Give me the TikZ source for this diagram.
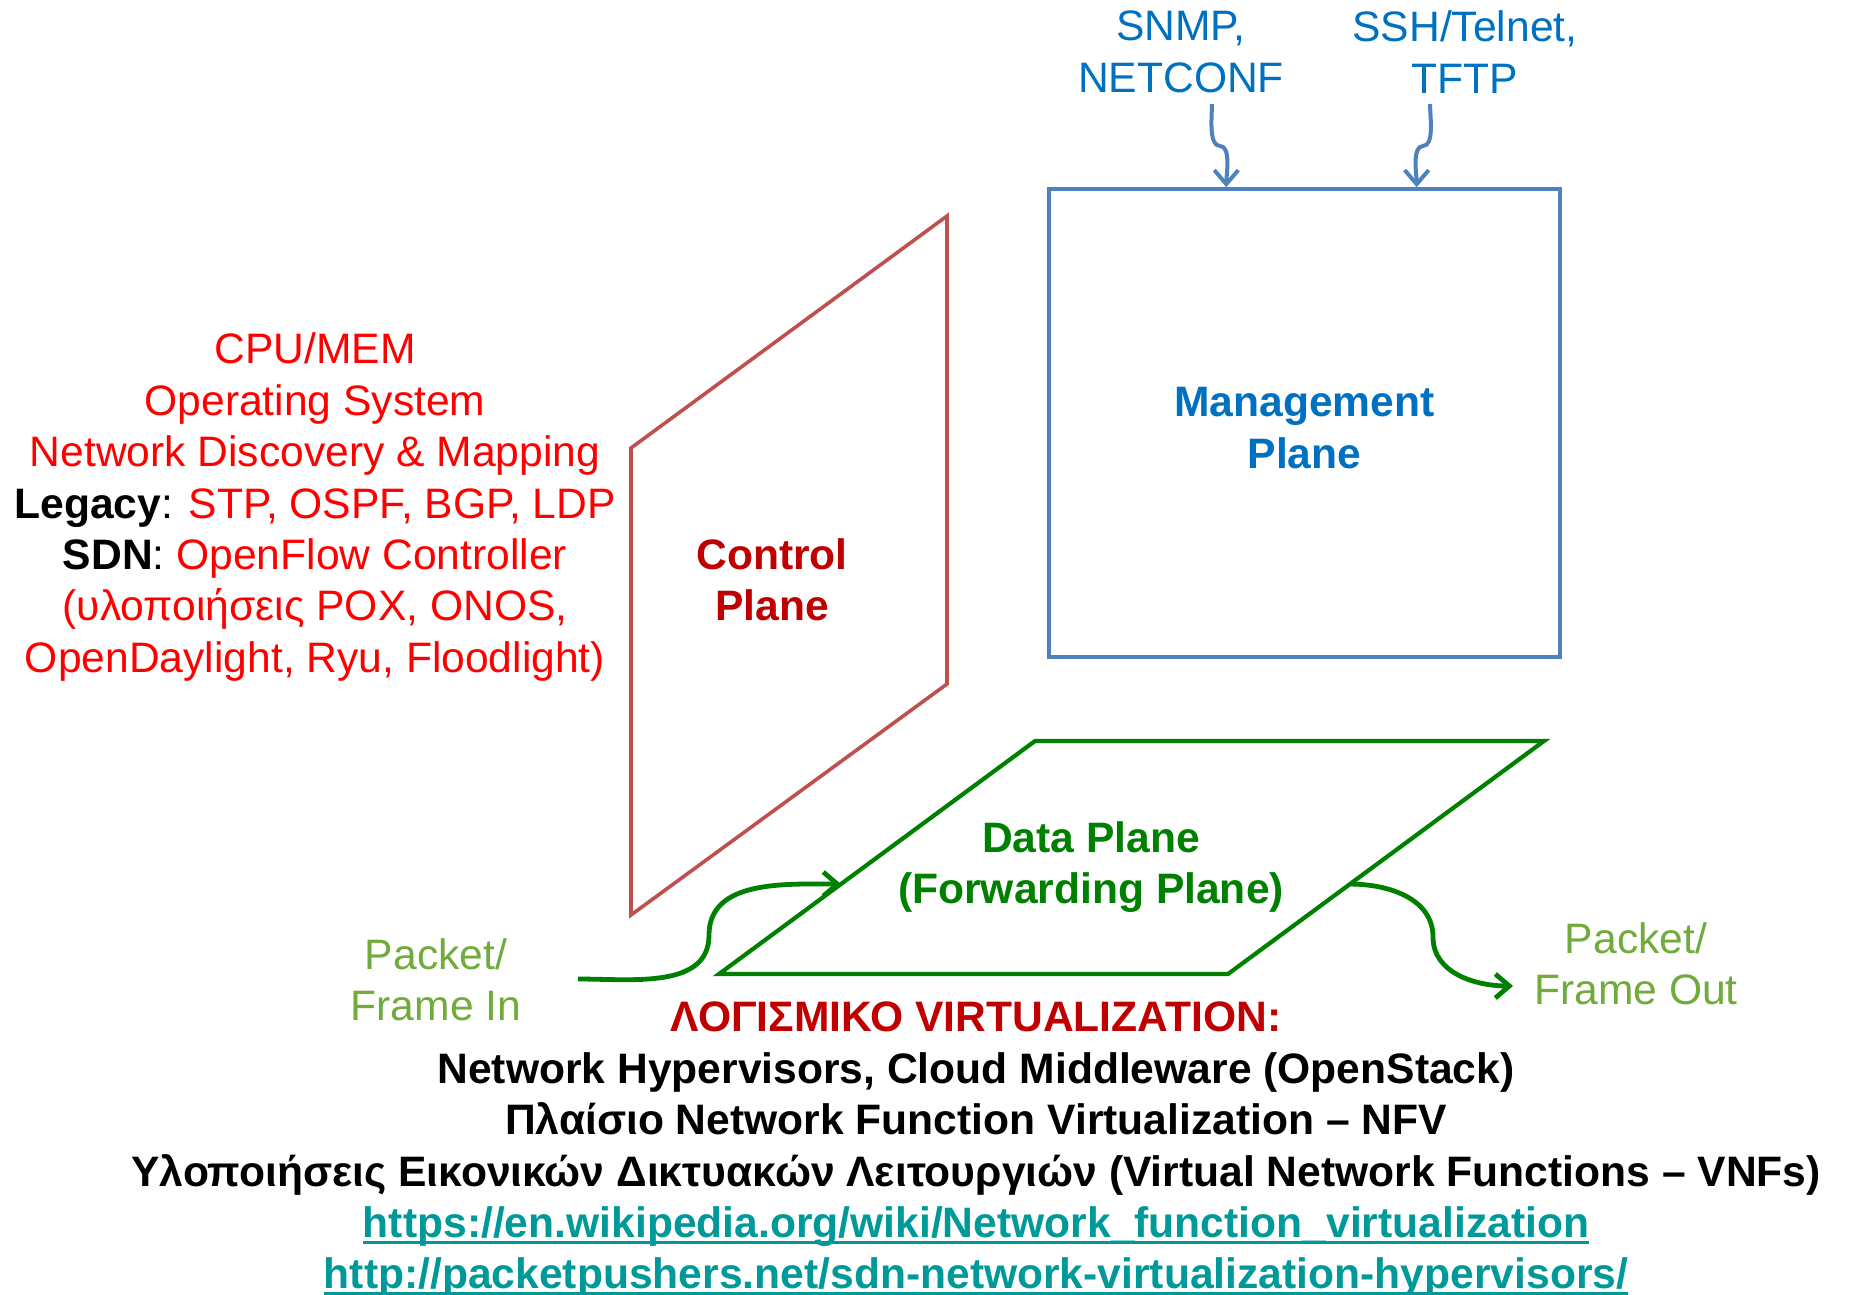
\documentclass[tikz,border=0pt]{standalone}
\usepackage{fontspec}
\setmainfont{Liberation Sans}
\usepackage{tikz}
\usetikzlibrary{arrows.meta,calc}
\usepackage{xcolor}
\definecolor{ctrlline}{HTML}{C0504D}
\definecolor{ctrltext}{HTML}{C00000}
\definecolor{mgmtline}{HTML}{4F81BD}
\definecolor{mgmttext}{HTML}{0070C0}
\definecolor{dataline}{HTML}{008000}
\definecolor{pktgreen}{HTML}{70AB3C}
\definecolor{urlteal}{HTML}{009999}
\newcommand\ulurl[1]{\setbox0\hbox{#1}\rlap{\raisebox{-3.2pt}{\rule{\wd0}{1.6pt}}}\box0}
\tikzset{
  txt/.style={font=\fontsize{21.3}{25.7}\selectfont, align=center, inner sep=0pt},
  planetitle/.style={txt, font=\fontsize{21.3}{25.7}\selectfont\bfseries},
  mgmtbox/.style={draw=mgmtline, line width=1.8pt, minimum width=255.5pt,
    minimum height=234pt},
  mgmtarrow/.style={->, draw=mgmtline, line width=2pt},
  pktarrow/.style={->, draw=dataline, line width=2.4pt}
}

\begin{document}
\begin{tikzpicture}[x=0.5pt,y=-0.5pt,
    >={Straight Barb[length=7pt,width=12pt]}]
  \useasboundingbox (0,0) rectangle (1849,1295);
  % management plane
  \node[mgmtbox] (mgmt) at (1304.5,423) {};
  \node[planetitle, text=mgmttext] (mgmttitle) at (1304.5,428) {Management\\Plane};
  \node[txt, text=mgmttext] (snmp) at (1181,52) {SNMP,\\NETCONF};
  \node[txt, text=mgmttext] (ssh) at (1465,52) {SSH/Telnet,\\TFTP};
  \coordinate (snmpout) at (1212,104);
  \coordinate (snmpkink) at (1220,146);
  \coordinate (sshout) at (1430,104);
  \coordinate (sshkink) at (1423,146);
  \draw[mgmtarrow] (snmpout) to[out=-90,in=180,looseness=0.7] (snmpkink)
    to[out=0,in=90,looseness=0.7] ($(mgmt.north west)!0.348!(mgmt.north east)$);
  \draw[mgmtarrow] (sshout) to[out=-90,in=0,looseness=0.7] (sshkink)
    to[out=180,in=90,looseness=0.7] ($(mgmt.north west)!0.718!(mgmt.north east)$);
  % control plane
  \coordinate (cp1) at (631,448);
  \coordinate (cp2) at (947,216);
  \coordinate (cp3) at (947,684);
  \coordinate (cp4) at (631,915);
  \draw[ctrlline, line width=1.8pt] (cp1) -- (cp2) -- (cp3) -- (cp4) -- cycle;
  \node[planetitle, text=ctrltext] (ctrl) at (772,580) {Control\\Plane};
  \node[txt, text=red] (cpu) at (315,507) {CPU/MEM\\
    Operating System\\
    Network Discovery \& Mapping\\
    \textcolor{black}{\textbf{Legacy}:} STP, OSPF, BGP, LDP\\
    \textcolor{black}{\textbf{SDN}:} OpenFlow Controller\\
    (υλοποιήσεις POX, ONOS,\\
    OpenDaylight, Ryu, Floodlight)};
  % data plane
  \coordinate (dp1) at (719,974);
  \coordinate (dp2) at (1035,741);
  \coordinate (dp3) at (1544,741);
  \coordinate (dp4) at (1228,974);
  \draw[dataline, line width=2.1pt] (dp1) -- (dp2) -- (dp3) -- (dp4) -- cycle;
  \node[planetitle, text=dataline] (data) at (1091,867) {Data Plane\\(Forwarding Plane)};
  % packets in and out
  \node[txt, text=pktgreen] (pktin) at (436,980) {Packet/\\Frame In};
  \node[txt, text=pktgreen] (pktout) at (1636,964) {Packet/\\Frame Out};
  \coordinate (instart) at (578,979);
  \coordinate (inkink) at (709,935);
  \coordinate (outkink) at (1433,937);
  \coordinate (outend) at (1513,986);
  \draw[pktarrow] (instart) to[out=0,in=-90] (inkink)
    to[out=90,in=180] ($(dp1)!0.386!(dp2)$);
  \draw[pktarrow] ($(dp4)!0.386!(dp3)$) to[out=0,in=90] (outkink)
    to[out=-90,in=180] (outend);
  % software
  \node[txt, font=\fontsize{21.3}{25.7}\selectfont\bfseries] (soft) at (976,1150)
    {\textcolor{ctrltext}{ΛΟΓΙΣΜΙΚΟ VIRTUALIZATION:}\\
    Network Hypervisors, Cloud Middleware (OpenStack)\\
    Πλαίσιο Network Function Virtualization – NFV\\
    Υλοποιήσεις Εικονικών Δικτυακών Λειτουργιών (Virtual Network Functions – VNFs)\\
    \textcolor{urlteal}{\ulurl{https://en.wikipedia.org/wiki/Network\_function\_virtualization}}\\
    \textcolor{urlteal}{\ulurl{http://packetpushers.net/sdn-network-virtualization-hypervisors/}}};
\end{tikzpicture}
\end{document}
